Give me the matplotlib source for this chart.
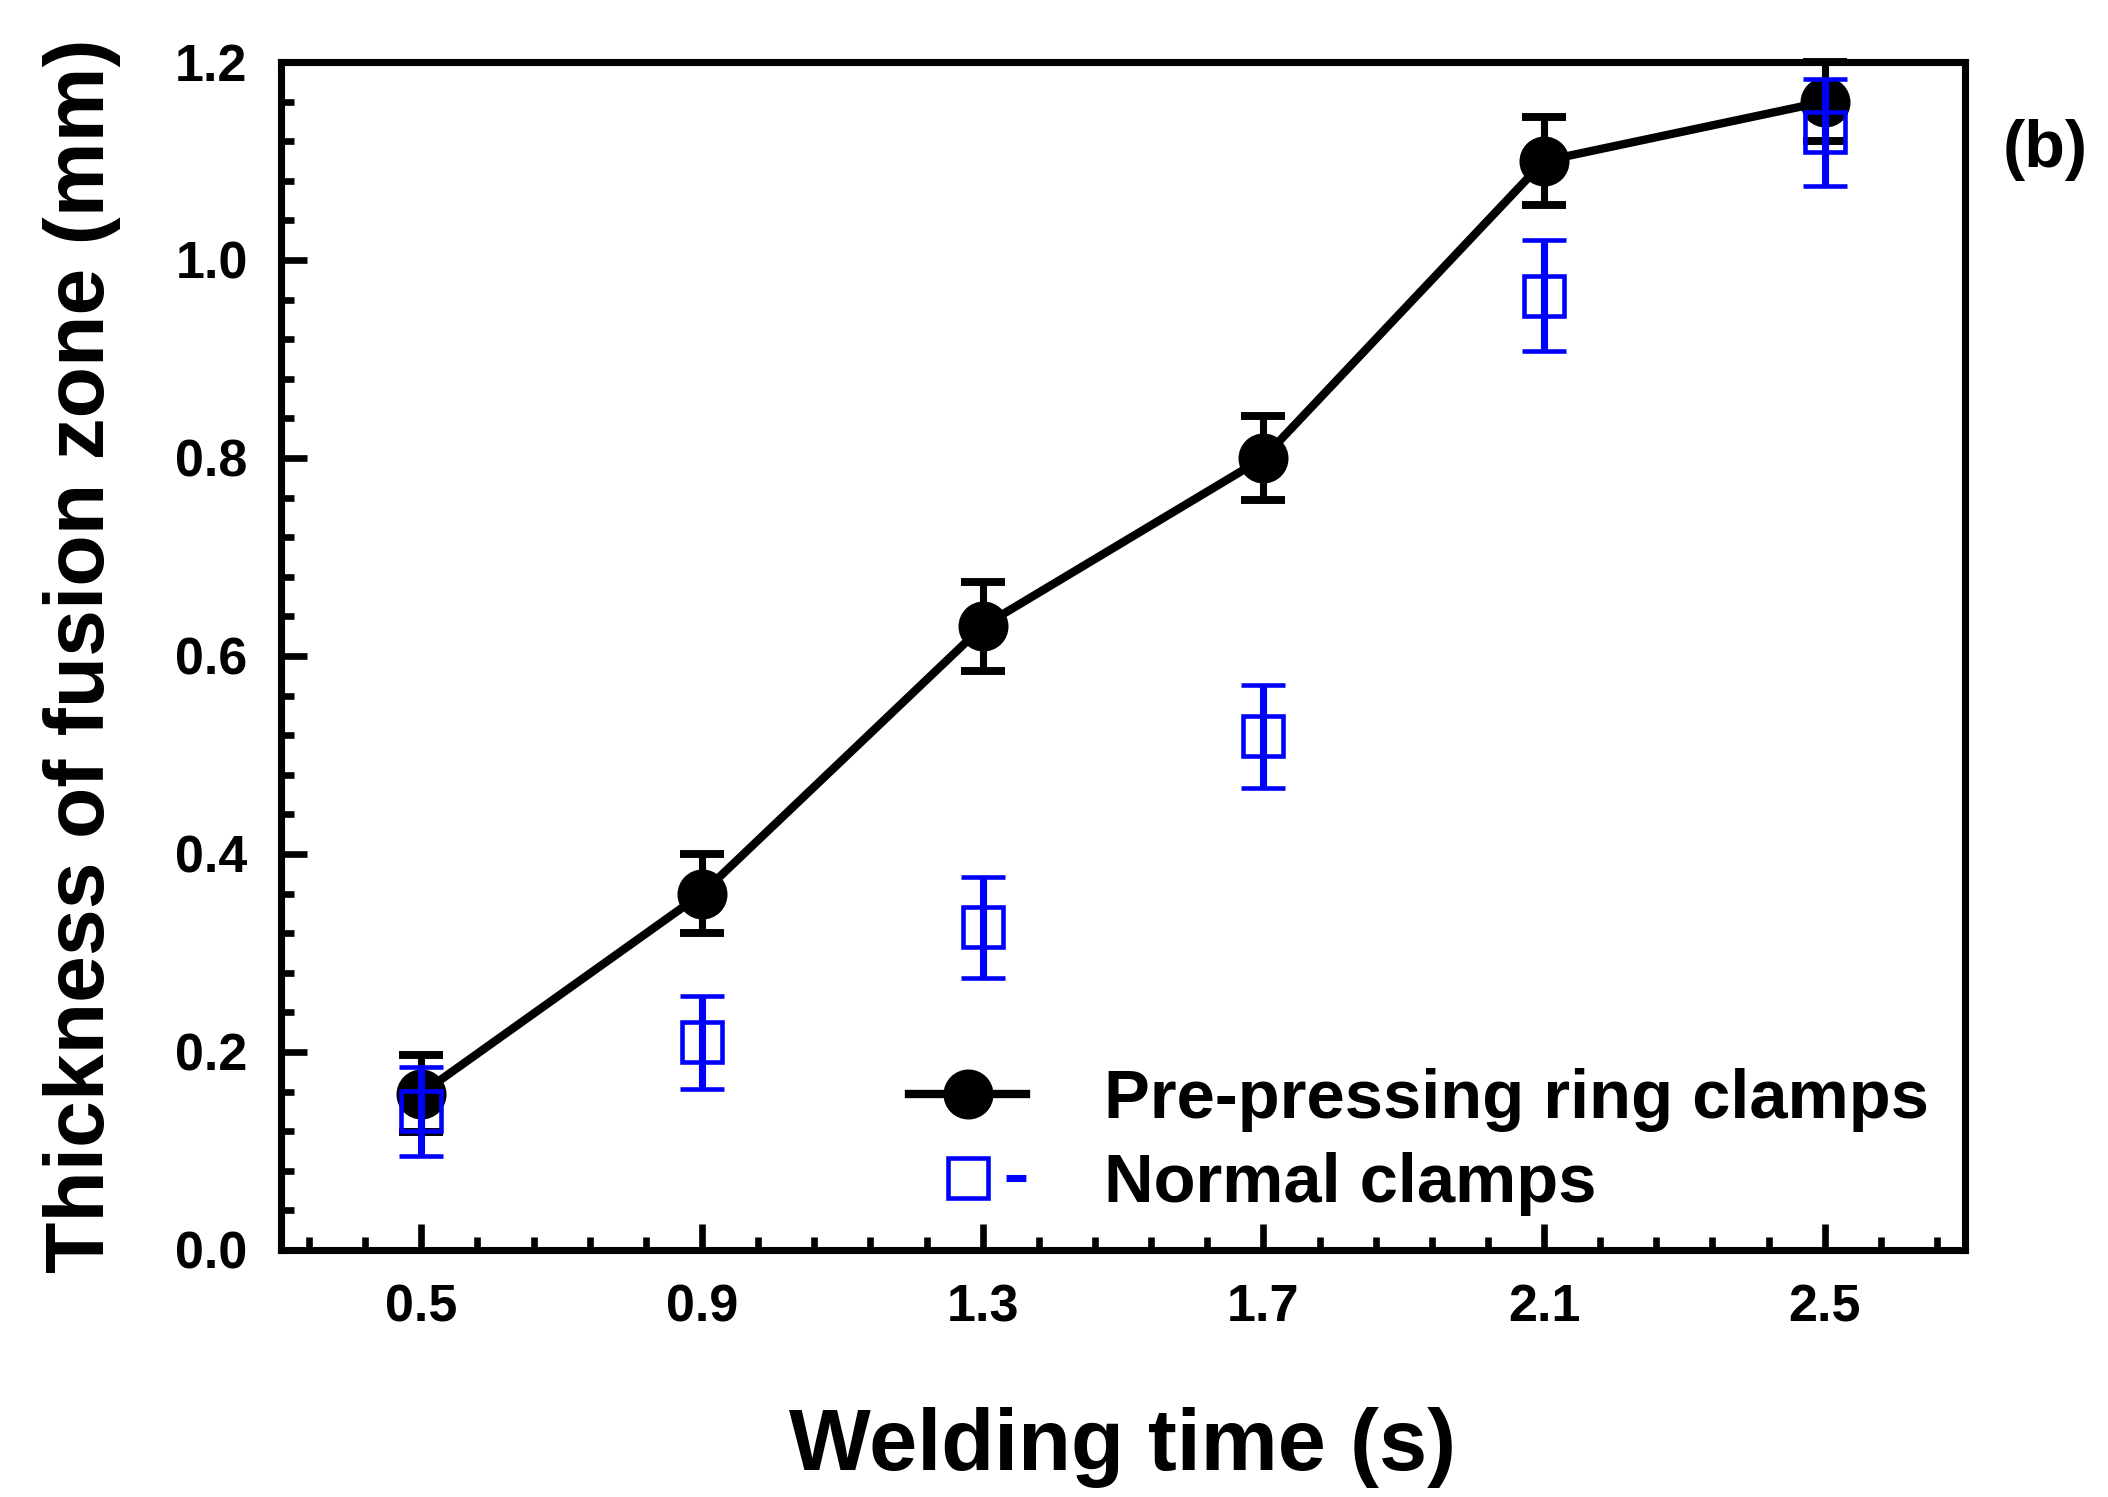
import numpy as np
import matplotlib
matplotlib.use("Agg")
import matplotlib.pyplot as plt
from matplotlib.ticker import MultipleLocator, AutoMinorLocator
from matplotlib.lines import Line2D

plt.rcParams['font.family'] = ['Liberation Sans', 'DejaVu Sans']
plt.rcParams['font.weight'] = 'bold'

# data
time_s = [0.5, 0.9, 1.3, 1.7, 2.1, 2.5]
ring = [0.158, 0.36, 0.63, 0.80, 1.10, 1.16]
ring_err = [0.039, 0.04, 0.045, 0.042, 0.044, 0.04]
normal = [0.14, 0.21, 0.326, 0.519, 0.964, 1.129]
normal_err = [0.045, 0.047, 0.051, 0.052, 0.056, 0.054]
xticks = [0.5, 0.9, 1.3, 1.7, 2.1, 2.5]

fig = plt.figure(figsize=(2108/300, 1497/300), dpi=300)
ax = fig.add_axes([0.1333, 0.165, 0.9322-0.1333, 0.9586-0.165])

ax.errorbar(time_s, ring, yerr=ring_err, color='black', marker='o', ms=11,
            lw=2, elinewidth=1.7, capsize=5.2, capthick=1.9, zorder=3,
            clip_on=False)
ax.errorbar(time_s, normal, yerr=normal_err, color='blue', marker='s', ms=9.5,
            mfc='none', mew=1.1, ls='none', elinewidth=1.7, capsize=5.2,
            capthick=1.9, zorder=4, clip_on=False)

ax.set_xlim(0.3, 2.7)
ax.set_ylim(0, 1.2)
ax.set_xticks(xticks)
ax.set_xticklabels([str(v) for v in xticks])
ax.xaxis.set_minor_locator(AutoMinorLocator(5))
ax.yaxis.set_major_locator(MultipleLocator(0.2))
ax.yaxis.set_minor_locator(AutoMinorLocator(5))
ax.tick_params(which='both', direction='in', top=False, right=False, width=1.6)
ax.tick_params(which='major', length=6.2, labelsize=12.5, pad=8)
ax.tick_params(which='minor', length=3.1)
for s in ax.spines.values():
    s.set_linewidth(1.7)

ax.set_xlabel('Welding time (s)', fontsize=20.8, fontweight='bold', labelpad=18)
ax.set_ylabel('Thickness of fusion zone (mm)', fontsize=20.2, fontweight='bold', labelpad=13)

h1 = Line2D([], [], color='black', marker='o', ms=11, lw=2)
h2 = Line2D([], [], color='blue', marker='s', ms=9.5, mfc='none', mew=1.1,
            lw=1.7, ls=(2.8, (2.8, 13.7)))
ax.legend([h1, h2], ['Pre-pressing ring clamps', 'Normal clamps'],
          loc='center left', bbox_to_anchor=(0.373, 0.091), frameon=False,
          fontsize=16.5, handlelength=1.7, handletextpad=1.13,
          borderpad=0, borderaxespad=0, labelspacing=0.3)

fig.text(0.950, 0.9, '(b)', fontsize=16, fontweight='bold', va='center', ha='left')

fig.savefig('out.png', dpi=300)
